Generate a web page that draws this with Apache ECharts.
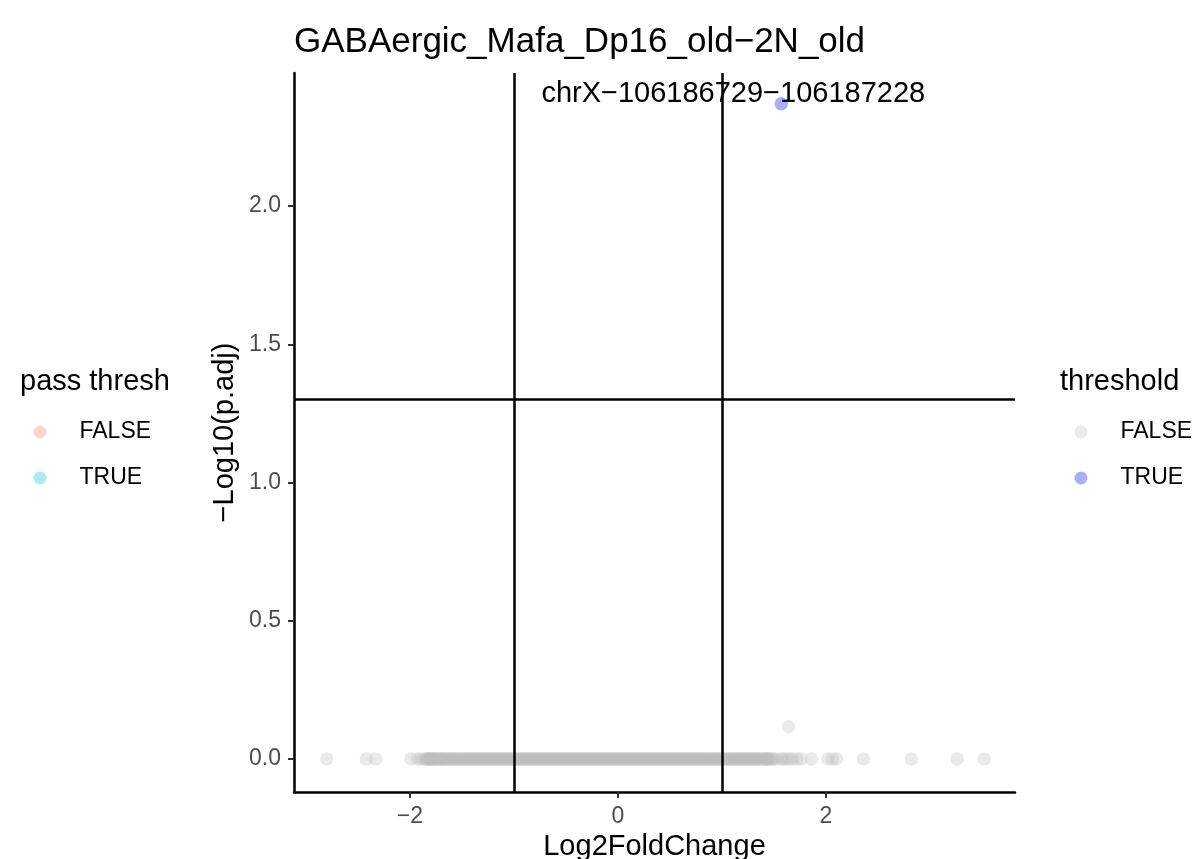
<!DOCTYPE html>
<html>
<head>
<meta charset="utf-8">
<script src="https://cdn.jsdelivr.net/npm/echarts@6/dist/echarts.min.js"></script>
<style>
html,body{margin:0;padding:0;background:#fff;overflow:hidden;}
#chart{width:1193px;height:859px;}
</style>
</head>
<body>
<div id="chart"></div>
<script>
const chartTitle = 'GABAergic_Mafa_Dp16_old\u22122N_old';
const xAxisName = 'Log2FoldChange';
const yAxisName = '\u2212Log10(p.adj)';
const xTicks = [-2, 0, 2];
const yTicks = [0, 0.5, 1.0, 1.5, 2.0];
const vLines = [-1, 1];
const hLine = 1.3;

// threshold FALSE: sparse points [log2FC, -log10(p.adj)]
const falsePoints = [
  [-2.80,0],[-2.42,0],[-2.33,0],[-1.99,0],[-1.93,0],[-1.90,0],[-1.87,0],
  [1.48,0],[1.50,0],[1.53,0],[1.57,0],[1.59,0],[1.62,0],[1.65,0],[1.68,0],
  [1.72,0],[1.76,0],[1.86,0],[2.02,0],[2.06,0],[2.10,0],[2.36,0],[2.82,0],
  [3.26,0],[3.52,0],
  [1.64,0.117]
];
// threshold FALSE: dense band of log2FC values, all at -log10(p.adj) = 0
const bandLog2FC = [
  -1.85,-1.84,-1.83,-1.82,-1.81,-1.80,-1.79,-1.78,-1.77,-1.76,-1.75,-1.735,-1.72,-1.71,-1.70,-1.69,
  -1.68,-1.665,-1.65,-1.64,-1.63,-1.615,-1.60,-1.59,-1.58,-1.565,-1.55,-1.54,-1.53,-1.515,-1.50,-1.485,
  -1.47,-1.46,-1.45,-1.435,-1.42,-1.41,-1.40,-1.385,-1.37,-1.36,-1.35,-1.335,-1.32,-1.31,-1.30,-1.285,
  -1.27,-1.26,-1.25,-1.235,-1.22,-1.21,-1.20,-1.185,-1.17,-1.16,-1.15,-1.135,-1.12,-1.11,-1.10,-1.085,
  -1.07,-1.06,-1.05,-1.035,-1.02,-1.01,-1.00,-0.985,-0.97,-0.96,-0.95,-0.935,-0.92,-0.91,-0.90,-0.885,
  -0.87,-0.86,-0.85,-0.835,-0.82,-0.81,-0.80,-0.785,-0.77,-0.76,-0.75,-0.735,-0.72,-0.71,-0.70,-0.685,
  -0.67,-0.66,-0.65,-0.635,-0.62,-0.61,-0.60,-0.585,-0.57,-0.56,-0.55,-0.535,-0.52,-0.51,-0.50,-0.485,
  -0.47,-0.46,-0.45,-0.435,-0.42,-0.41,-0.40,-0.385,-0.37,-0.36,-0.35,-0.335,-0.32,-0.31,-0.30,-0.285,
  -0.27,-0.26,-0.25,-0.235,-0.22,-0.21,-0.20,-0.185,-0.17,-0.16,-0.15,-0.135,-0.12,-0.11,-0.10,-0.085,
  -0.07,-0.06,-0.05,-0.035,-0.02,-0.01,0.00,0.015,0.03,0.04,0.05,0.065,0.08,0.09,0.10,0.115,
  0.13,0.14,0.15,0.165,0.18,0.19,0.20,0.215,0.23,0.24,0.25,0.265,0.28,0.29,0.30,0.315,
  0.33,0.34,0.35,0.365,0.38,0.39,0.40,0.415,0.43,0.44,0.45,0.465,0.48,0.49,0.50,0.515,
  0.53,0.54,0.55,0.565,0.58,0.59,0.60,0.615,0.63,0.64,0.65,0.665,0.68,0.69,0.70,0.715,
  0.73,0.74,0.75,0.765,0.78,0.79,0.80,0.815,0.83,0.84,0.85,0.865,0.88,0.89,0.90,0.915,
  0.93,0.94,0.95,0.965,0.98,0.99,1.00,1.015,1.03,1.04,1.05,1.065,1.08,1.09,1.10,1.115,
  1.13,1.14,1.15,1.165,1.18,1.19,1.20,1.215,1.23,1.24,1.25,1.265,1.28,1.29,1.30,1.315,
  1.33,1.34,1.35,1.365,1.38,1.39,1.41,1.42,1.43,1.44,1.45,1.46
];

// threshold TRUE points
const truePoints = [[1.57, 2.37]];
const trueLabels = ['chrX\u2212106186729\u2212106187228'];

const passLegend = ['FALSE', 'TRUE'];
const thresholdLegend = ['FALSE', 'TRUE'];

const FONT = 'Liberation Sans, Arial, sans-serif';
const fmtNum = (v, d) => {
  const s = Math.abs(v).toFixed(d);
  return v < 0 ? '\u2212' + s : s;
};

const falseData = bandLog2FC.map(x => [x, 0]).concat(falsePoints);

const chart = echarts.init(document.getElementById('chart'), null, {renderer: 'canvas'});
const legendText = {fontFamily: FONT, fontSize: 23, color: '#000', padding: [0, 0, 0, 28]};
const option = {
  animation: false,
  backgroundColor: '#ffffff',
  textStyle: {fontFamily: FONT},
  title: [
    {text: chartTitle, left: 289, top: 20,
     textStyle: {fontFamily: FONT, fontSize: 35, fontWeight: 'normal', color: '#000', lineHeight: 35}},
    {text: 'pass thresh', left: 15, top: 362,
     textStyle: {fontFamily: FONT, fontSize: 29, fontWeight: 'normal', color: '#000', lineHeight: 29}},
    {text: 'threshold', left: 1055, top: 362,
     textStyle: {fontFamily: FONT, fontSize: 29, fontWeight: 'normal', color: '#000', lineHeight: 29}}
  ],
  legend: [
    {
      orient: 'vertical', left: 28.5, top: 415.5,
      itemWidth: 13, itemHeight: 13, itemGap: 23,
      selectedMode: false,
      data: passLegend.map(n => ({name: 'pass_' + n, icon: 'circle'})),
      formatter: name => name.split('_')[1],
      textStyle: legendText
    },
    {
      orient: 'vertical', left: 1069.5, top: 415.5,
      itemWidth: 13, itemHeight: 13, itemGap: 23,
      selectedMode: false,
      data: thresholdLegend.map(n => ({name: 'thr_' + n, icon: 'circle'})),
      formatter: name => name.split('_')[1],
      textStyle: legendText
    }
  ],
  grid: {left: 294, right: 178, top: 73, bottom: 67, containLabel: false, outerBoundsMode: 'none'},
  xAxis: {
    type: 'value', min: -3.115, max: 3.817,
    name: xAxisName, nameLocation: 'middle', nameGap: 40, nameMoveOverlap: false,
    nameTextStyle: {fontFamily: FONT, fontSize: 29, color: '#000', lineHeight: 29},
    splitLine: {show: false},
    axisLine: {onZero: false, lineStyle: {color: '#000', width: 2.5}},
    axisTick: {show: true, length: 6, customValues: xTicks, lineStyle: {color: '#333', width: 2}},
    axisLabel: {customValues: xTicks, margin: 13, fontFamily: FONT, fontSize: 23, color: '#4D4D4D',
      formatter: v => fmtNum(v, 0)}
  },
  yAxis: {
    type: 'value', min: -0.119, max: 2.481,
    name: yAxisName, nameLocation: 'middle', nameGap: 55, nameRotate: 90, nameMoveOverlap: false,
    nameTextStyle: {fontFamily: FONT, fontSize: 29, color: '#000', lineHeight: 29},
    splitLine: {show: false},
    axisLine: {onZero: false, lineStyle: {color: '#000', width: 2.5}},
    axisTick: {show: true, length: 6, customValues: yTicks, lineStyle: {color: '#333', width: 2}},
    axisLabel: {customValues: yTicks, margin: 13, fontFamily: FONT, fontSize: 23, color: '#4D4D4D',
      formatter: v => fmtNum(v, 1)}
  },
  series: [
    {name: 'pass_FALSE', type: 'scatter', data: [], itemStyle: {color: 'rgba(248,118,109,0.4)'}},
    {name: 'pass_TRUE', type: 'scatter', data: [], itemStyle: {color: 'rgba(0,191,196,0.4)'}},
    {
      name: 'thr_FALSE', type: 'scatter', symbol: 'circle', symbolSize: 13.5,
      data: falseData,
      large: false,
      itemStyle: {color: 'rgba(190,190,190,0.4)'},
      emphasis: {disabled: true},
      z: 2,
      markLine: {
        silent: true, symbol: ['none', 'none'],
        label: {show: false},
        lineStyle: {color: '#000', width: 2.5, type: 'solid'},
        emphasis: {disabled: true},
        data: vLines.map(v => ({xAxis: v})).concat([{yAxis: hLine}])
      }
    },
    {
      name: 'thr_TRUE', type: 'scatter', symbol: 'circle', symbolSize: 13.5,
      data: truePoints.map((p, i) => ({value: p, name: trueLabels[i]})),
      itemStyle: {color: 'rgba(0,0,255,0.4)'},
      emphasis: {disabled: true},
      z: 3,
      label: {show: true, position: 'inside', offset: [-48, -10],
        formatter: p => p.name, fontFamily: FONT, fontSize: 29, color: '#000000', opacity: 1,
        textBorderWidth: 0, textShadowBlur: 0}
    }
  ]
};
chart.setOption(option);
</script>
</body>
</html>
